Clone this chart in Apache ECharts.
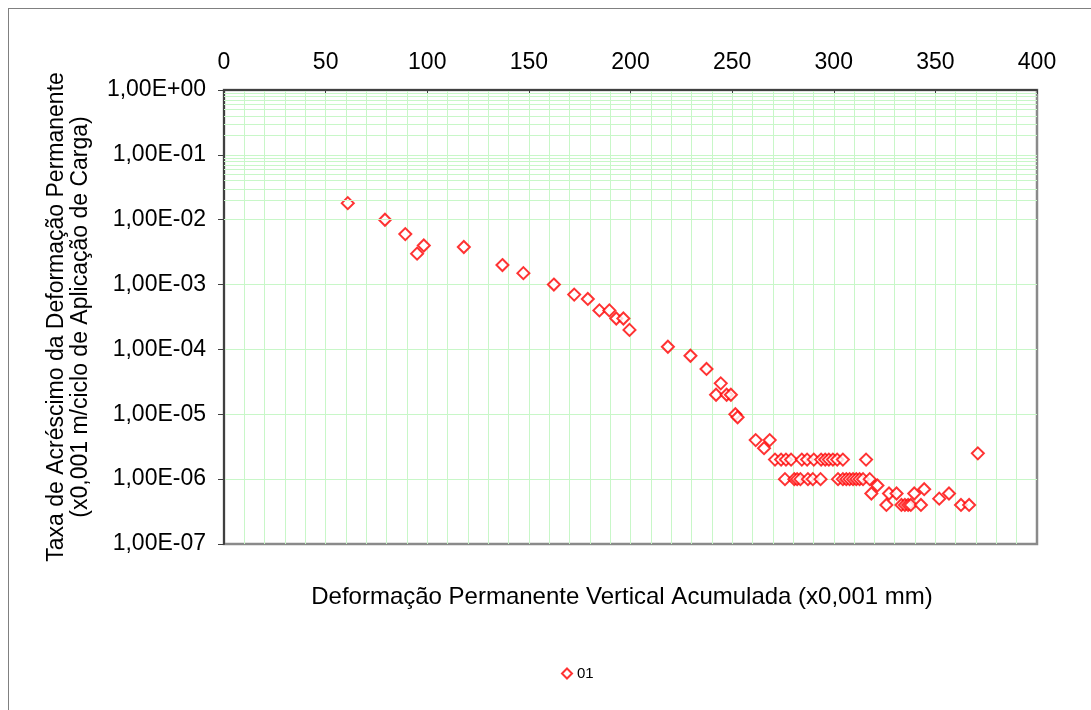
<!DOCTYPE html>
<html>
<head>
<meta charset="utf-8">
<script src="https://cdn.jsdelivr.net/npm/echarts@6/dist/echarts.min.js"></script>
<style>
  html, body { margin: 0; padding: 0; background: #fff; }
  #frame { position: absolute; left: 8px; top: 8px; width: 1100px; height: 720px; border: 1px solid #808080; }
  #chart { position: absolute; left: 0; top: 0; width: 1091px; height: 710px; }
</style>
</head>
<body>
<div id="frame"></div>
<div id="chart"></div>
<script>
// deformação acumulada (x0,001 mm)
const xVals = [
  60.9, 79.2, 89.2, 95.0, 98.3, 118, 137, 147.3, 162.3, 172.3, 179,
  184.7, 189.6, 193, 196.5, 199.5, 218.4, 229.5, 237.4, 242.1, 244.4,
  247.3, 249.4, 251.6, 252.7, 261.6, 265.7, 268.5,
  271.1, 274.1, 276, 276.5, 279, 280.6, 282, 283.6, 284.3, 286.9,
  287.3, 289.7, 290.2, 293.5, 293.8, 295.8, 297.6, 299.6, 301.7, 302.1,
  304.5, 304.5, 306.2, 307.8, 309.5, 311.1, 312.7, 314.4, 315.9, 317.7,
  318.5, 321.5, 325.9, 327.2, 330.9, 333.3, 335, 336.6, 337.9, 339.6,
  342.9, 344.5, 351.9, 356.7, 362.6, 366.6, 370.9
];
// taxa de acréscimo (x0,001 m/ciclo)
const yVals = [
  1.8e-2, 1.0e-2, 6e-3, 3e-3, 4e-3, 3.8e-3, 2e-3, 1.5e-3, 1e-3, 7e-4, 6e-4,
  4e-4, 4e-4, 3e-4, 3e-4, 2e-4, 1.1e-4, 8e-5, 5e-5, 2e-5, 3e-5,
  2e-5, 2e-5, 1e-5, 9e-6, 4e-6, 3e-6, 4e-6,
  2e-6, 2e-6, 1e-6, 2e-6, 2e-6, 1e-6, 1e-6, 1e-6, 2e-6, 2e-6,
  1e-6, 1e-6, 2e-6, 1e-6, 2e-6, 2e-6, 2e-6, 2e-6, 2e-6, 1e-6,
  2e-6, 1e-6, 1e-6, 1e-6, 1e-6, 1e-6, 1e-6, 1e-6, 2e-6, 1e-6,
  6e-7, 8e-7, 4e-7, 6e-7, 6e-7, 4e-7, 4e-7, 4e-7, 4e-7, 6e-7,
  4e-7, 7e-7, 5e-7, 6e-7, 4e-7, 4e-7, 2.5e-6
];
const seriesName = "01";

const points = xVals.map((x, i) => [x, yVals[i]]);

// linhas secundárias da escala logarítmica (2..9 por década)
const minorLines = [];
for (let e = -7; e < 0; e++) {
  for (let m = 2; m <= 9; m++) minorLines.push({ yAxis: m * Math.pow(10, e) });
}

const gridColor = "#c8f7c8";
const font = "Liberation Sans, Arial, sans-serif";

const fmtExp = function (v) {
  const e = Math.round(Math.log10(v));
  const mant = v / Math.pow(10, e);
  return mant.toFixed(2).replace(".", ",") + "E" + (e < 0 ? "-" : "+") + String(Math.abs(e)).padStart(2, "0");
};

let myChart = echarts.init(document.getElementById("chart"));
let option = {
  animation: false,
  textStyle: { fontFamily: font },
  grid: {
    left: 224, top: 90, width: 813, height: 454,
    show: true, borderColor: "#8a8a8a", borderWidth: 2.5, backgroundColor: "#fff"
  },
  graphic: [
    {
      type: "text", x: 622, y: 597,
      style: {
        text: "Deformação Permanente Vertical Acumulada (x0,001 mm)",
        fontSize: 24, fontFamily: font, fill: "#000",
        align: "center", verticalAlign: "middle"
      }
    }
  ],
  legend: {
    bottom: 24, left: 556,
    itemWidth: 10, itemHeight: 10, itemGap: 4,
    textStyle: { fontSize: 15, color: "#000", fontFamily: font },
    data: [seriesName]
  },
  xAxis: {
    type: "value", position: "top",
    min: 0, max: 400, interval: 50,
    axisLine: { lineStyle: { color: "#404040", width: 2 } },
    axisTick: { inside: true, length: 4, lineStyle: { color: "#404040" } },
    axisLabel: { fontSize: 23, color: "#000", margin: 16 },
    splitLine: { showMaxLine: false, lineStyle: { color: gridColor } },
    minorTick: { show: false, splitNumber: 5 },
    minorSplitLine: { show: true, lineStyle: { color: gridColor } }
  },
  yAxis: {
    type: "log", logBase: 10,
    min: 1e-7, max: 1,
    name: "Taxa de Acréscimo da Deformação Permanente\n(x0,001 m/ciclo de Aplicação de Carga)",
    nameLocation: "middle", nameGap: 131, nameRotate: 90,
    nameTextStyle: { fontSize: 23, color: "#000", lineHeight: 24, fontFamily: font },
    axisLine: { show: true, lineStyle: { color: "#404040", width: 2 } },
    axisTick: { show: true, length: 6, lineStyle: { color: "#404040" } },
    axisLabel: { fontSize: 23, color: "#000", margin: 18, formatter: fmtExp },
    splitLine: { showMinLine: false, lineStyle: { color: gridColor } }
  },
  series: [
    {
      name: "grade", type: "scatter", data: [], z: 1, silent: true,
      markLine: {
        silent: true, symbol: "none", animation: false,
        label: { show: false },
        lineStyle: { color: gridColor, type: "solid", width: 1 },
        data: minorLines
      }
    },
    {
      name: seriesName, type: "scatter", z: 3,
      symbol: "emptyDiamond", symbolSize: 12,
      itemStyle: { color: "#ff0000", borderColor: "#ff0000", borderWidth: 1.6 },
      data: points
    }
  ]
};
myChart.setOption(option);
window.addEventListener("resize", function () {
  myChart.resize();
});
</script>
</body>
</html>
